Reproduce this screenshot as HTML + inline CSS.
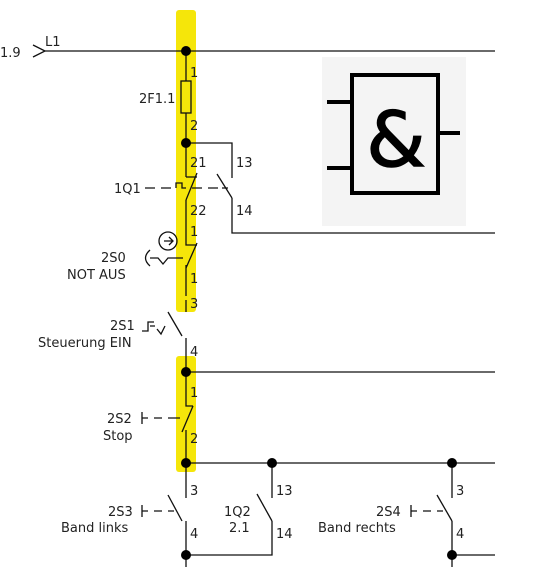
<!DOCTYPE html>
<html><head><meta charset="utf-8"><style>
html,body{margin:0;padding:0;background:#fff;}
svg{display:block;font-family:"DejaVu Sans","Liberation Sans",sans-serif;}
text{font-size:13px;fill:#222;}
</style></head><body>
<svg width="535" height="567" viewBox="0 0 535 567">
<g fill="#f5e60a">
<rect x="176" y="10" width="20" height="302" rx="3"/>
<rect x="176" y="356" width="20" height="116" rx="3"/>
</g>
<g>
<rect x="322" y="57" width="144" height="169" fill="#f4f4f4"/>
<rect x="352" y="75" width="86" height="118" fill="none" stroke="#000" stroke-width="4"/>
<line x1="327" y1="102" x2="352" y2="102" stroke="#000" stroke-width="4"/>
<line x1="327" y1="168" x2="352" y2="168" stroke="#000" stroke-width="4"/>
<line x1="438" y1="133" x2="460" y2="133" stroke="#000" stroke-width="4"/>
<text x="396" y="166" text-anchor="middle" style="font-size:76px;fill:#000;font-family:'DejaVu Sans',sans-serif;font-style:normal" stroke="#000" stroke-width="1.5">&amp;</text>
</g>
<g stroke="#111" stroke-width="1.3" fill="none">
<path d="M33 45 L45 51 L33 57"/>
<line x1="45" y1="51" x2="495" y2="51"/>
<line x1="186" y1="51" x2="186" y2="81"/>
<rect x="181" y="81" width="10" height="32"/>
<line x1="186" y1="113" x2="186" y2="177"/>
<path d="M186 143 H232 V178"/>
<path d="M186 177 H197"/>
<line x1="197" y1="173" x2="186" y2="200"/>
<line x1="217" y1="174" x2="232" y2="198"/>
<path d="M232 198 V233 H495"/>
<path d="M145 188 H155 M161 188 H171 M176 188 V183 H182 V188 H186 M192 188 H202 M208 188 H218 M222 188 H228" />
<path d="M186 200 V245 H197"/>
<line x1="197" y1="243" x2="186" y2="268"/>
<line x1="186" y1="265" x2="186" y2="296"/>
<circle cx="168" cy="241" r="9"/>
<path d="M164 241 H172 M169 237 L173 241 L169 245"/>
<path d="M150 250 Q141 258 150 266 M150 258 H158 L163 264 L168 258 H183"/>
<line x1="186" y1="300" x2="186" y2="312"/>
<line x1="168" y1="312" x2="182" y2="336"/>
<line x1="186" y1="338" x2="186" y2="372"/>
<path d="M142 331 H148 V322 H154 M150 326 H155 M157 329 L161 334 L165 326"/>
<line x1="186" y1="372" x2="495" y2="372"/>
<path d="M186 372 V406 H193"/>
<line x1="193" y1="406" x2="182" y2="432"/>
<line x1="186" y1="430" x2="186" y2="463"/>
<path d="M142 412 V424 M142 418 H148 M154 418 H162 M168 418 H180"/>
<line x1="186" y1="463" x2="495" y2="463"/>
<line x1="186" y1="463" x2="186" y2="498"/>
<line x1="168" y1="495" x2="182" y2="521"/>
<line x1="186" y1="521" x2="186" y2="567"/>
<path d="M142 505 V517 M142 511 H148 M154 511 H162 M168 511 H174"/>
<path d="M186 555 H272 V521"/>
<line x1="272" y1="463" x2="272" y2="498"/>
<line x1="257" y1="494" x2="272" y2="521"/>
<line x1="452" y1="463" x2="452" y2="498"/>
<line x1="437" y1="495" x2="452" y2="521"/>
<line x1="452" y1="521" x2="452" y2="567"/>
<path d="M452 555 H495"/>
<path d="M411 505 V517 M411 511 H417 M423 511 H431 M437 511 H443"/>
</g>
<g fill="#000">
<circle cx="186" cy="51" r="5"/><circle cx="186" cy="143" r="5"/>
<circle cx="186" cy="372" r="5"/><circle cx="186" cy="463" r="5"/>
<circle cx="272" cy="463" r="5"/><circle cx="452" cy="463" r="5"/>
<circle cx="186" cy="555" r="5"/><circle cx="452" cy="555" r="5"/>
</g>
<g>
<text x="0" y="57">1.9</text><text x="45" y="46">L1</text>
<text x="190" y="77">1</text><text x="139" y="103">2F1.1</text><text x="190" y="130">2</text>
<text x="190" y="167">21</text><text x="236" y="167">13</text>
<text x="114" y="193">1Q1</text>
<text x="190" y="215">22</text><text x="236" y="215">14</text>
<text x="190" y="236">1</text>
<text x="101" y="262">2S0</text><text x="67" y="279">NOT AUS</text>
<text x="190" y="283">1</text><text x="190" y="308">3</text>
<text x="110" y="330">2S1</text><text x="38" y="347">Steuerung EIN</text>
<text x="190" y="356">4</text>
<text x="190" y="397">1</text>
<text x="107" y="423">2S2</text><text x="103" y="440">Stop</text>
<text x="190" y="443">2</text>
<text x="190" y="495">3</text><text x="276" y="495">13</text><text x="456" y="495">3</text>
<text x="108" y="516">2S3</text><text x="61" y="532">Band links</text>
<text x="224" y="516">1Q2</text><text x="229" y="532">2.1</text>
<text x="190" y="538">4</text><text x="276" y="538">14</text>
<text x="376" y="516">2S4</text><text x="318" y="532">Band rechts</text>
<text x="456" y="538">4</text>
</g>
</svg>
</body></html>
